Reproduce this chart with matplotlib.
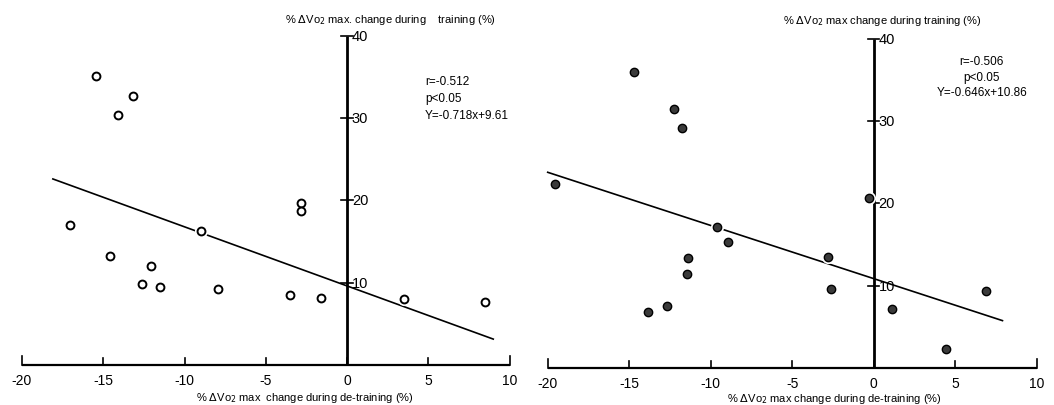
import matplotlib.pyplot as plt
import numpy as np

plt.rcParams['font.family'] = ['Liberation Sans', 'DejaVu Sans']

# left panel (open circles)
left_x = [-15.45, -13.17, -14.09, -17.05, -14.58, -12.04, -12.6, -11.5,
          -8.98, -7.94, -3.53, -1.62, -2.85, -2.85, 3.49, 8.47]
left_y = [35.1, 32.7, 30.4, 17.0, 13.2, 12.0, 9.8, 9.5,
          16.3, 9.2, 8.5, 8.2, 19.7, 18.7, 8.0, 7.65]
left_fit = (-0.718, 9.61)
left_fit_range = (-18.1, 9.0)
left_stats = ['r=-0.512', 'p<0.05', 'Y=-0.718x+9.61']

# right panel (filled circles)
right_x = [-14.68, -12.27, -11.78, -19.55, -9.61, -8.94, -11.37, -11.43,
           -13.82, -12.66, -2.80, -2.62, -0.27, 1.10, 4.46, 6.91]
right_y = [36.0, 31.5, 29.2, 22.3, 17.1, 15.3, 13.4, 11.4,
           6.8, 7.5, 13.5, 9.6, 20.6, 7.2, 2.3, 9.4]
right_fit = (-0.646, 10.86)
right_fit_range = (-20.0, 7.9)
right_stats = ['r=-0.506', 'p<0.05', 'Y=-0.646x+10.86']

x_ticks = [-20, -15, -10, -5, 0, 5, 10]
y_ticks = [10, 20, 30, 40]

W, H = 1054, 406
fig = plt.figure(figsize=(W / 100, H / 100), dpi=100)


def make_panel(left_px, x0_px, y0_px, px_per_x, px_per_y):
    # axes covering half the figure, data limits chosen so the scale matches
    ax = fig.add_axes([left_px / W, 0, 527 / W, 1])
    xmin = -20 - (x0_px - left_px) / px_per_x
    xmax = xmin + 527 / px_per_x
    ymin = -(H - y0_px) / px_per_y
    ymax = y0_px / px_per_y
    ax.set_xlim(xmin, xmax)
    ax.set_ylim(ymin, ymax)
    ax.axis('off')
    return ax


def draw_panel(ax, xs, ys, fit, fit_range, stats, filled, ylab, xlab, stats_pos):
    # axes lines
    ax.plot([-20, 10], [0, 0], color='black', lw=1.6, solid_capstyle='butt')
    ax.plot([0, 0], [0, 40], color='black', lw=2.0, solid_capstyle='butt')
    for t in x_ticks:
        h = 1.1 if t in (-20, 10) else 0.8
        ax.plot([t, t], [0, h], color='black', lw=1.2)
        ax.text(t, -1.8, str(t), ha='center', va='center', fontsize=10)
    for t in y_ticks:
        ax.plot([-0.35, 0.35], [t, t], color='black', lw=1.2)
        ax.text(0.3, t, str(t), ha='left', va='center', fontsize=10.5)

    # regression line
    fx = np.array(fit_range)
    ax.plot(fx, fit[0] * fx + fit[1], color='black', lw=1.2, zorder=2)

    # white halo then markers
    ax.scatter(xs, ys, s=90, color='white', zorder=3, linewidths=0)
    if filled:
        ax.scatter(xs, ys, s=36, facecolor='#3a3a3a', edgecolor='black',
                   linewidths=1.0, zorder=4)
    else:
        ax.scatter(xs, ys, s=32, facecolor='white', edgecolor='black',
                   linewidths=1.4, zorder=4)

    ax.text(ylab[1], ylab[2], ylab[0], ha='center', va='center', fontsize=8)
    ax.text(xlab[1], xlab[2], xlab[0], ha='center', va='center', fontsize=8)
    sx, sy, dy, ha = stats_pos
    for i, s in enumerate(stats):
        ax.text(sx, sy - i * dy, s, ha=ha, va='center', fontsize=8.5)


axL = make_panel(0, 22, 366, 16.25, 8.23)
draw_panel(axL, left_x, left_y, left_fit, left_fit_range, left_stats, False,
           (r'% $\mathit{\Delta}$Vo$_2$ max. change during    training (%)', 2.7, 42.0),
           (r'% $\mathit{\Delta}$Vo$_2$ max  change during de-training (%)', -2.6, -3.9),
           (4.8, 34.5, 2.05, 'left'))

axR = make_panel(527, 547.7, 369, 16.3, 8.23)
draw_panel(axR, right_x, right_y, right_fit, right_fit_range, right_stats, True,
           (r'% $\mathit{\Delta}$Vo$_2$ max change during training (%)', 0.5, 42.3),
           (r'% $\mathit{\Delta}$Vo$_2$ max change during de-training (%)', -2.4, -3.6),
           (6.64, 37.3, 1.9, 'center'))

plt.savefig('out.png', dpi=100)
